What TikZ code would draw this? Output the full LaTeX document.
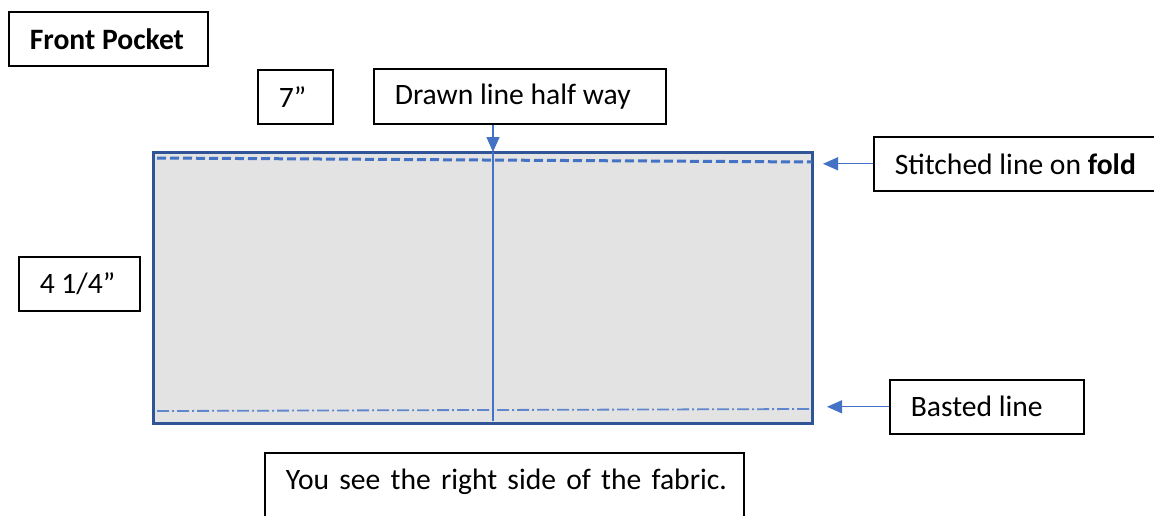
\documentclass[tikz,border=0pt]{standalone}
\usepackage{fontspec}
\setmainfont{Carlito}
\usepackage{tikz}
\usetikzlibrary{arrows.meta}
\definecolor{seam}{HTML}{4472C4}
\definecolor{edge}{HTML}{2F5597}
\definecolor{cloth}{HTML}{E3E3E3}
\newlength{\padl}
\setlength{\padl}{21pt}
\tikzstyle{box}=[draw=black, line width=1.6pt, fill=white, anchor=north west, align=left, inner sep=0pt, font=\fontsize{29.6}{34}\selectfont, execute at begin node={\spaceskip=.226em\leftskip=\padl\relax}]
\tikzstyle{ptr}=[draw=seam, line width=1.3pt, -{Triangle[length=15pt,width=13pt]}]

\begin{document}
\begin{tikzpicture}[x=1pt, y=-1pt]
    \useasboundingbox (0,0) rectangle (1154,515);

    % the pocket piece
    \node[draw=edge, line width=2.6pt, fill=cloth, anchor=north west, minimum width=659pt, minimum height=271pt, inner sep=0pt] (pocket) at (152,151) {};
    \draw[seam, line width=3pt, dash pattern=on 9pt off 4pt] (157,158) -- (812,162);
    \draw[seam!85, line width=1.8pt, dash pattern=on 12pt off 3pt on 2pt off 3pt] (157,411) -- (810,409);
    \coordinate (topmid) at (493,152);
    \coordinate (botmid) at (493,421);
    \draw[seam, line width=1.3pt] (topmid) -- (botmid);

    % labels
    \node[box, text width=199pt, minimum height=54pt] (title) at (8,11) {\textbf{Front Pocket}};
    \node[box, text width=75pt, minimum height=54pt] (width) at (257,69) {7”};
    \node[box, text width=292pt, minimum height=55pt] (drawn) at (373,68) {Drawn line half way};
    \node[box, text width=121pt, minimum height=54pt] (height) at (18,256) {4 1/4”};
    \node[box, text width=290pt, minimum height=54pt] (stitched) at (873,136) {\setlength{\leftskip}{22pt}Stitched line on \textbf{fold}};
    \node[box, text width=194pt, minimum height=54pt] (basted) at (889,379) {Basted line};
    \node[box, text width=479pt, minimum height=102pt, text depth=50pt] (side) at (264,452) {\setlength{\leftskip}{23pt}\spaceskip=.345em\relax You see the right side of the fabric.};

    % arrows
    \coordinate (tipS) at (823,163);
    \coordinate (tipB) at (827,409);
    \draw[ptr] (drawn.south -| topmid) -- (topmid);
    \draw[ptr] (stitched.west) -- (stitched.west -| tipS);
    \draw[ptr] (basted.west) -- (basted.west -| tipB);
\end{tikzpicture}
\end{document}
